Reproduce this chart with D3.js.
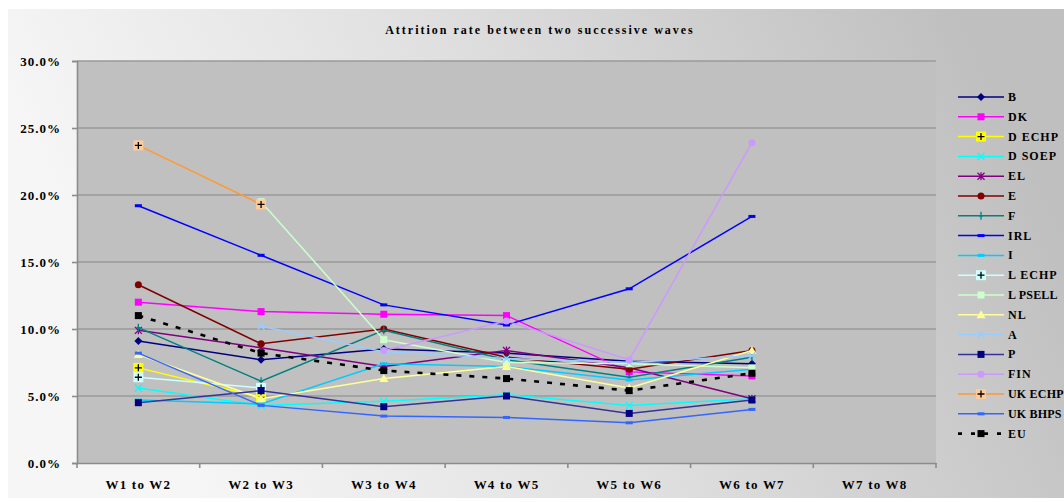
<!DOCTYPE html>
<html>
<head>
<meta charset="utf-8">
<script src="https://cdn.jsdelivr.net/npm/d3@7"></script>
<style>
  html, body { margin: 0; padding: 0; background: #fff; overflow: hidden; }
  svg { display: block; font-family: "Liberation Serif", "DejaVu Serif", serif; }
</style>
</head>
<body>
<div class="chart"></div>
<script>
// categories
const waves = ['W1 to W2', 'W2 to W3', 'W3 to W4', 'W4 to W5', 'W5 to W6', 'W6 to W7', 'W7 to W8'];
const yTicks = [0, 5, 10, 15, 20, 25, 30];

// attrition rate (%) per country, one value per wave pair
const B       = [9.1, 7.7, 8.5, 8.2, 7.6, 7.4, null];
const DK      = [12.0, 11.3, 11.1, 11.0, 6.8, 6.5, null];
const DECHP   = [7.1, 4.9, null, null, null, null, null];
const DSOEP   = [5.6, 4.3, 4.6, 5.1, 4.3, 4.8, null];
const EL      = [9.9, 8.6, 7.2, 8.4, 7.1, 4.8, null];
const E       = [13.3, 8.9, 10.0, 7.9, 7.0, 8.4, null];
const F       = [10.1, 6.1, 9.9, 7.7, 6.4, 7.9, null];
const IRL     = [19.2, 15.5, 11.8, 10.3, 13.0, 18.4, null];
const I       = [4.7, 4.4, 7.4, 7.2, 6.2, 7.0, null];
const LECHP   = [6.4, 5.6, null, null, null, null, null];
const LPSELL  = [null, 19.5, 9.2, 7.5, 7.4, 7.1, null];
const NL      = [8.1, 4.8, 6.3, 7.2, 5.6, 8.4, null];
const A       = [null, 10.2, 8.3, 7.8, 7.5, 8.0, null];
const P       = [4.5, 5.4, 4.2, 5.0, 3.7, 4.7, null];
const FIN     = [null, null, 8.4, 10.6, 7.7, 23.9, null];
const UKECHP  = [23.7, 19.3, null, null, null, null, null];
const UKBHPS  = [8.2, 4.3, 3.5, 3.4, 3.0, 4.0, null];
const EU      = [11.0, 8.2, 6.9, 6.3, 5.4, 6.7, null];

const seriesNames = ['B', 'DK', 'D ECHP', 'D SOEP', 'EL', 'E', 'F', 'IRL', 'I', 'L ECHP', 'L PSELL', 'NL', 'A', 'P', 'FIN', 'UK ECHP', 'UK BHPS', 'EU'];
const seriesValues = [B, DK, DECHP, DSOEP, EL, E, F, IRL, I, LECHP, LPSELL, NL, A, P, FIN, UKECHP, UKBHPS, EU];

// styles: line colour, marker type, marker fill
const lineColors = ['#000080', '#ff00ff', '#ffff00', '#00ffff', '#800080', '#800000', '#008080', '#0000ff', '#00ccff', '#ccffff', '#ccffcc', '#ffff99', '#99ccff', '#333399', '#cc99ff', '#ff9933', '#3366ff', '#000000'];
const markerTypes = ['diamond', 'square', 'squareplus', 'x', 'star', 'circle', 'plus', 'dash', 'dash', 'squareplus', 'square', 'triangle', 'x', 'square', 'circle', 'squareplus', 'dash', 'square'];
const markerFills = ['#000080', '#ff00ff', '#ffff00', '#00ffff', '#800080', '#800000', '#008080', '#0000ff', '#00ccff', '#ccffff', '#ccffcc', '#ffff99', '#99ccff', '#000080', '#cc99ff', '#ffcc99', '#3366ff', '#000000'];

const series = seriesNames.map((name, i) => ({
  name: name,
  values: seriesValues[i],
  color: lineColors[i],
  marker: markerTypes[i],
  fill: markerFills[i]
}));

const width = 1064, height = 502;

const svg = d3.select('.chart').append('svg')
  .attr('width', width)
  .attr('height', height);

const defs = svg.append('defs');
const grad = defs.append('linearGradient')
  .attr('id', 'bg')
  .attr('x1', '0%').attr('y1', '20%')
  .attr('x2', '90%').attr('y2', '0%');
grad.append('stop').attr('offset', '0%').attr('stop-color', '#f6f6f6');
grad.append('stop').attr('offset', '45%').attr('stop-color', '#e0e0e0');
grad.append('stop').attr('offset', '100%').attr('stop-color', '#bfbfbf');

svg.append('rect')
  .attr('x', 8).attr('y', 9)
  .attr('width', width - 8).attr('height', 489)
  .attr('fill', 'url(#bg)');

const plot = { left: 77, right: 936, top: 61, bottom: 463 };

const xScale = d3.scaleBand()
  .domain(waves)
  .range([plot.left, plot.right]);

const yScale = d3.scaleLinear()
  .domain([0, 30])
  .range([plot.bottom, plot.top]);

const xPos = i => xScale(waves[i]) + xScale.bandwidth() / 2;

// plot area
svg.append('rect')
  .attr('x', plot.left).attr('y', plot.top)
  .attr('width', plot.right - plot.left).attr('height', plot.bottom - plot.top)
  .attr('fill', '#c0c0c0');

// gridlines
svg.append('g')
  .selectAll('line')
  .data(yTicks.filter(t => t > 0))
  .enter()
  .append('line')
  .attr('x1', plot.left).attr('x2', plot.right)
  .attr('y1', d => yScale(d)).attr('y2', d => yScale(d))
  .attr('stroke', '#9a9a9a')
  .attr('stroke-width', 1.6);

// y axis
const yAxis = svg.append('g')
  .attr('transform', `translate(${plot.left},0)`)
  .call(d3.axisLeft(yScale).tickValues(yTicks).tickSize(5).tickPadding(11)
    .tickFormat(d => d3.format('.1f')(d) + '%'));
yAxis.select('.domain').attr('stroke', '#8c8c8c').attr('stroke-width', 1.6);
yAxis.selectAll('.tick line').attr('stroke', '#8c8c8c').attr('stroke-width', 1.6);
yAxis.selectAll('.tick text')
  .attr('fill', '#000')
  .style('font-size', '13px')
  .style('font-weight', 'bold')
  .style('letter-spacing', '1px')
  .style('font-family', '"Liberation Serif", serif');

// x axis
const xAxis = svg.append('g')
  .attr('transform', `translate(0,${plot.bottom})`)
  .call(d3.axisBottom(xScale).tickSize(0).tickPadding(17));
xAxis.select('.domain').attr('stroke', '#8c8c8c').attr('stroke-width', 1.6);
xAxis.selectAll('.tick text')
  .attr('fill', '#000')
  .style('font-size', '13px')
  .style('font-weight', 'bold')
  .style('letter-spacing', '1.2px')
  .style('font-family', '"Liberation Serif", serif');
xAxis.append('g')
  .selectAll('line')
  .data(d3.range(waves.length + 1))
  .enter()
  .append('line')
  .attr('x1', i => plot.left + i * xScale.step())
  .attr('x2', i => plot.left + i * xScale.step())
  .attr('y1', 0).attr('y2', 5)
  .attr('stroke', '#8c8c8c')
  .attr('stroke-width', 1.6);

// title
svg.append('text')
  .attr('x', 540).attr('y', 34)
  .attr('text-anchor', 'middle')
  .style('font-size', '12px')
  .style('font-weight', 'bold')
  .style('letter-spacing', '2px')
  .text('Attrition rate between two successive waves');

const drawMarker = (g, type, color, fill) => {
  if (type === 'square') {
    g.append('rect').attr('x', -3.5).attr('y', -3.5).attr('width', 7).attr('height', 7).attr('fill', fill);
  } else if (type === 'squareplus') {
    g.append('rect').attr('x', -5).attr('y', -5).attr('width', 10).attr('height', 10).attr('fill', fill);
    g.append('path').attr('d', 'M-3.5,0H3.5M0,-3.5V3.5').attr('stroke', '#000').attr('stroke-width', 1.3);
  } else if (type === 'diamond') {
    g.append('path').attr('d', 'M0,-4L4,0L0,4L-4,0Z').attr('fill', fill);
  } else if (type === 'circle') {
    g.append('circle').attr('r', 3.5).attr('fill', fill);
  } else if (type === 'triangle') {
    g.append('path').attr('d', 'M0,-4.5L4.5,3.5L-4.5,3.5Z').attr('fill', fill);
  } else if (type === 'x') {
    g.append('path').attr('d', 'M-3.5,-3.5L3.5,3.5M-3.5,3.5L3.5,-3.5').attr('stroke', fill).attr('stroke-width', 1.3);
  } else if (type === 'star') {
    g.append('path').attr('d', 'M-3.5,-3.5L3.5,3.5M-3.5,3.5L3.5,-3.5M0,-4V4').attr('stroke', fill).attr('stroke-width', 1.3);
  } else if (type === 'plus') {
    g.append('path').attr('d', 'M0,-4V4M-2,0H2').attr('stroke', fill).attr('stroke-width', 1.3);
  } else if (type === 'dash') {
    g.append('rect').attr('x', -3.5).attr('y', -1.5).attr('width', 7).attr('height', 3).attr('fill', fill);
  }
};

const lineGen = d3.line()
  .defined(d => d.v !== null)
  .x(d => xPos(d.i))
  .y(d => yScale(d.v));

const seriesG = svg.append('g')
  .selectAll('g')
  .data(series)
  .enter()
  .append('g');

seriesG.append('path')
  .attr('d', s => lineGen(s.values.map((v, i) => ({ v: v, i: i }))))
  .attr('fill', 'none')
  .attr('stroke', s => s.color)
  .attr('stroke-width', s => s.name === 'EU' ? 2.6 : 1.5)
  .attr('stroke-dasharray', s => s.name === 'EU' ? '5,8' : null);

seriesG.each(function(s) {
  const g = d3.select(this);
  s.values.forEach((v, i) => {
    if (v === null) return;
    const m = g.append('g').attr('transform', `translate(${xPos(i)},${yScale(v)})`);
    drawMarker(m, s.marker, s.color, s.fill);
  });
});

// legend
const legend = svg.append('g').attr('transform', 'translate(958,97)');
const legendRow = legend.selectAll('g')
  .data(series)
  .enter()
  .append('g')
  .attr('transform', (d, i) => `translate(0,${i * 19.8})`);

legendRow.append('line')
  .attr('x1', 0).attr('x2', 46)
  .attr('stroke', d => d.color)
  .attr('stroke-width', d => d.name === 'EU' ? 2.6 : 1.5)
  .attr('stroke-dasharray', d => d.name === 'EU' ? '4,9' : null);

legendRow.each(function(d) {
  const m = d3.select(this).append('g').attr('transform', 'translate(23,0)');
  drawMarker(m, d.marker, d.color, d.fill);
});

legendRow.append('text')
  .attr('x', 50).attr('y', 4)
  .style('font-size', '12px')
  .style('font-weight', 'bold')
  .style('letter-spacing', d => d.name.length > 6 ? '0.2px' : '1px')
  .text(d => d.name);
</script>
</body>
</html>
